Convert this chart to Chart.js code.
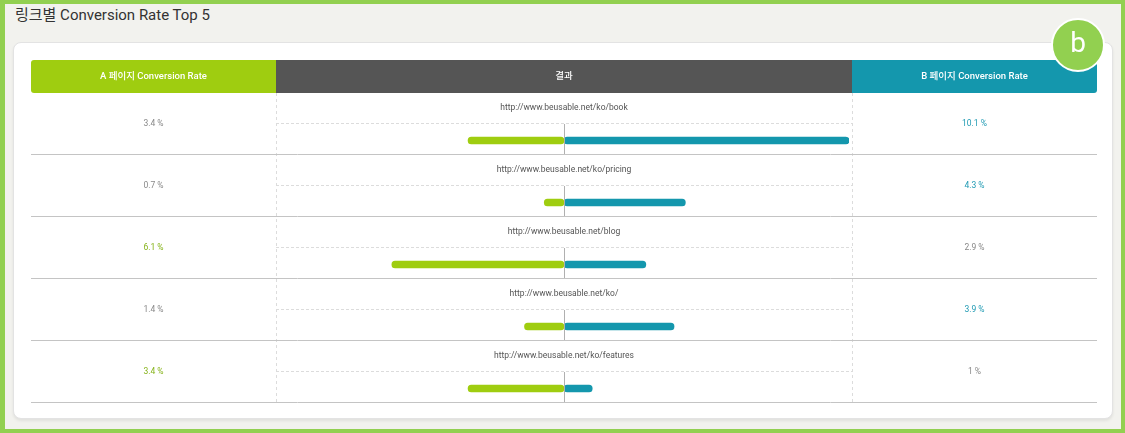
<!DOCTYPE html>
<html>
<head>
<meta charset="utf-8">
<script src="https://cdn.jsdelivr.net/npm/chart.js@4/dist/chart.umd.min.js"></script>
<style>
  html, body { margin: 0; padding: 0; }
  body { width: 1125px; height: 433px; overflow: hidden; font-family: Roboto, "Noto Sans CJK KR", sans-serif; }
  #frame { position: absolute; left: 0; top: 0; width: 1125px; height: 433px; box-sizing: border-box;
           border: 4px solid #92d050; border-left-width: 5px; background: #f2f2ee; }
  #title { position: absolute; left: 15px; top: 6px; font-size: 15px; line-height: 18px; color: #333; }
  #card { position: absolute; left: 13px; top: 42px; width: 1100px; height: 377px; box-sizing: border-box;
          background: #fff; border: 1px solid #e3e3e3; border-radius: 8px; box-shadow: 0 2px 3px rgba(0,0,0,0.07); }
  #chartWrap { position: absolute; left: 31px; top: 60px; width: 1066px; height: 343px; }
  #badge { position: absolute; left: 1051px; top: 18px; width: 54px; height: 54px; box-sizing: border-box;
           border-radius: 50%; border: 2.5px solid #fff; background: #92d050; color: #fff; z-index: 5;
           font-size: 28px; line-height: 46px; text-align: center; font-family: Roboto, sans-serif; }
</style>
</head>
<body>
<div id="frame"></div>
<div id="title">링크별 Conversion Rate Top 5</div>
<div id="card"></div>
<div id="chartWrap"><canvas id="c" width="1066" height="343"></canvas></div>
<div id="badge">b</div>
<script>
const urls = [
  "http://www.beusable.net/ko/book",
  "http://www.beusable.net/ko/pricing",
  "http://www.beusable.net/blog",
  "http://www.beusable.net/ko/",
  "http://www.beusable.net/ko/features"
];
const rateA = [3.4, 0.7, 6.1, 1.4, 3.4];
const rateB = [10.1, 4.3, 2.9, 3.9, 1];
const headerA = "A 페이지 Conversion Rate";
const headerMid = "결과";
const headerB = "B 페이지 Conversion Rate";

const GREEN = "#9fcd10", TEAL = "#1497ad", DARK = "#555555";
const GREEN_TXT = "#86b31a", TEAL_TXT = "#1f9ab3", GRAY_TXT = "#888";
const FONT = 'Roboto, "Noto Sans CJK KR", sans-serif';
const BAR_OFFSET = 0.766; // bar position within a row (fraction of row height)
const maxVal = Math.max(...rateA, ...rateB);

function rr(ctx, x, y, w, h, tl, tr, br, bl) {
  ctx.beginPath();
  ctx.moveTo(x + tl, y);
  ctx.lineTo(x + w - tr, y); ctx.quadraticCurveTo(x + w, y, x + w, y + tr);
  ctx.lineTo(x + w, y + h - br); ctx.quadraticCurveTo(x + w, y + h, x + w - br, y + h);
  ctx.lineTo(x + bl, y + h); ctx.quadraticCurveTo(x, y + h, x, y + h - bl);
  ctx.lineTo(x, y + tl); ctx.quadraticCurveTo(x, y, x + tl, y);
  ctx.closePath();
}

const tablePlugin = {
  id: 'table',
  beforeDatasetsDraw(chart) {
    const ctx = chart.ctx, ys = chart.scales.y, W = chart.width;
    const colA = 245, colB = 821;
    const top = chart.chartArea.top, bottom = chart.chartArea.bottom;
    ctx.save();
    // header
    ctx.fillStyle = GREEN; rr(ctx, 0, 0, colA, top, 3, 0, 0, 3); ctx.fill();
    ctx.fillStyle = DARK; ctx.fillRect(colA, 0, colB - colA, top);
    ctx.fillStyle = TEAL; rr(ctx, colB, 0, W - colB, top, 0, 3, 3, 0); ctx.fill();
    ctx.fillStyle = "#fff"; ctx.font = "500 9.5px " + FONT; ctx.textAlign = "center"; ctx.textBaseline = "middle";
    ctx.fillText(headerA, colA / 2, top / 2 + 0.5);
    ctx.fillText(headerMid, (colA + colB) / 2, top / 2 + 0.5);
    ctx.fillText(headerB, (colB + W) / 2, top / 2 + 0.5);
    // column dashed separators
    ctx.strokeStyle = "#dcdcdc"; ctx.lineWidth = 1; ctx.setLineDash([3, 3]);
    [colA, colB].forEach(x => { ctx.beginPath(); ctx.moveTo(x + 0.5, top); ctx.lineTo(x + 0.5, bottom); ctx.stroke(); });
    urls.forEach((u, i) => {
      const rt = ys.getPixelForValue(i - BAR_OFFSET);
      const rb = ys.getPixelForValue(i + 1 - BAR_OFFSET);
      const mid = Math.round((rt + rb) / 2) - 0.5;
      ctx.setLineDash([3, 2]); ctx.strokeStyle = "#dcdcdc";
      ctx.beginPath(); ctx.moveTo(colA, mid); ctx.lineTo(colB, mid); ctx.stroke();
      ctx.setLineDash([]); ctx.strokeStyle = "#c4c4c4";
      ctx.beginPath(); ctx.moveTo(0, rb - 0.5); ctx.lineTo(W, rb - 0.5); ctx.stroke();
      ctx.font = "8.5px " + FONT; ctx.fillStyle = "#555";
      ctx.fillText(u, (colA + colB) / 2, rt + 14.5);
      const a = rateA[i], b = rateB[i];
      ctx.fillStyle = a > b ? GREEN_TXT : GRAY_TXT;
      ctx.fillText(a + " %", colA / 2, mid + 0.5);
      ctx.fillStyle = b > a ? TEAL_TXT : GRAY_TXT;
      ctx.fillText(b + " %", (colB + W) / 2, mid + 0.5);
    });
    ctx.restore();
  },
  afterDatasetsDraw(chart) {
    const ctx = chart.ctx, ys = chart.scales.y, xs = chart.scales.x;
    const x0 = Math.round(xs.getPixelForValue(0)) + 0.5;
    ctx.save();
    ctx.strokeStyle = "#b0b0b0"; ctx.lineWidth = 1;
    urls.forEach((u, i) => {
      const rt = ys.getPixelForValue(i - BAR_OFFSET);
      const rb = ys.getPixelForValue(i + 1 - BAR_OFFSET);
      const mid = Math.round((rt + rb) / 2);
      ctx.beginPath(); ctx.moveTo(x0, mid); ctx.lineTo(x0, rb - 1); ctx.stroke();
    });
    ctx.restore();
  }
};

const radius = { topLeft: 3.5, topRight: 3.5, bottomLeft: 3.5, bottomRight: 3.5 };
new Chart(document.getElementById('c'), {
  type: 'bar',
  data: {
    labels: urls,
    datasets: [
      { label: headerA, data: rateA.map((v, i) => ({ x: -v, y: i })), backgroundColor: GREEN,
        barThickness: 7, borderRadius: radius, borderSkipped: false, grouped: false },
      { label: headerB, data: rateB.map((v, i) => ({ x: v, y: i })), backgroundColor: TEAL,
        barThickness: 7, borderRadius: radius, borderSkipped: false, grouped: false }
    ]
  },
  options: {
    indexAxis: 'y',
    responsive: false,
    animation: false,
    devicePixelRatio: 1,
    layout: { padding: { left: 248, right: 248, top: 33, bottom: 0 } },
    plugins: { legend: { display: false }, tooltip: { enabled: false } },
    scales: {
      x: { type: 'linear', display: false, min: -maxVal, max: maxVal, offset: false },
      y: { type: 'linear', display: false, reverse: true, offset: false, grace: 0,
           min: -BAR_OFFSET, max: urls.length - BAR_OFFSET }
    }
  },
  plugins: [tablePlugin]
});
</script>
</body>
</html>
